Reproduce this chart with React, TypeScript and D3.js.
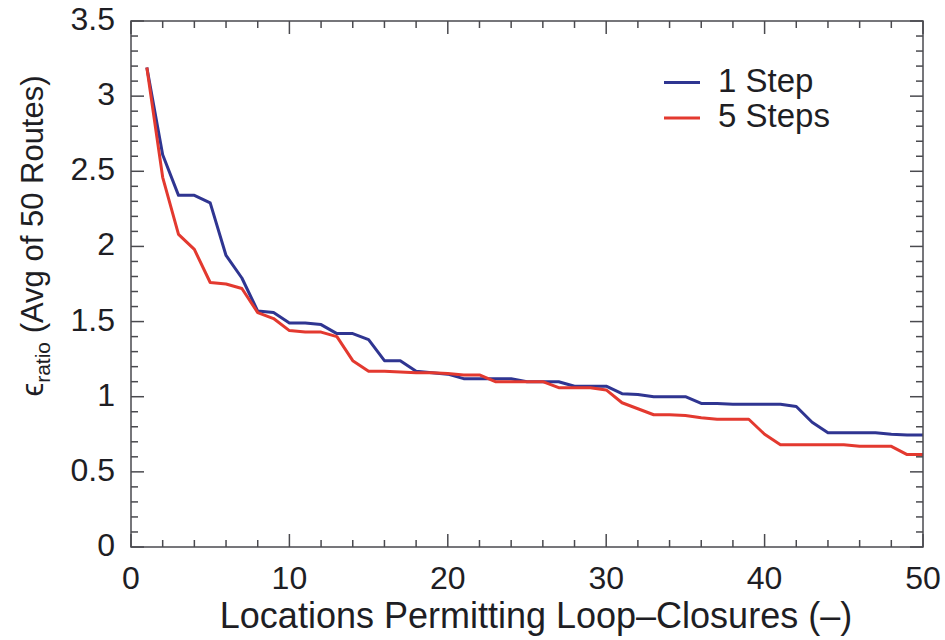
import React from "react";
import * as d3 from "d3";

const locations = [1,2,3,4,5,6,7,8,9,10,11,12,13,14,15,16,17,18,19,20,21,22,23,24,25,26,27,28,29,30,31,32,33,34,35,36,37,38,39,40,41,42,43,44,45,46,47,48,49,50];
const oneStep = [3.19,2.61,2.34,2.34,2.29,1.94,1.79,1.57,1.56,1.49,1.49,1.48,1.42,1.42,1.38,1.24,1.24,1.17,1.16,1.15,1.12,1.12,1.12,1.12,1.10,1.10,1.10,1.07,1.07,1.07,1.02,1.015,1.00,1.00,1.00,0.955,0.955,0.95,0.95,0.95,0.95,0.935,0.83,0.76,0.76,0.76,0.76,0.75,0.745,0.745];
const fiveSteps = [3.19,2.46,2.08,1.98,1.76,1.75,1.72,1.56,1.52,1.44,1.43,1.43,1.40,1.24,1.17,1.17,1.165,1.16,1.16,1.155,1.145,1.145,1.10,1.10,1.10,1.10,1.06,1.06,1.06,1.045,0.96,0.92,0.88,0.88,0.875,0.86,0.85,0.85,0.85,0.75,0.68,0.68,0.68,0.68,0.68,0.67,0.67,0.67,0.615,0.615];
const xTickLabels = [0,10,20,30,40,50];
const yTickLabels = [0,0.5,1,1.5,2,2.5,3,3.5];
const seriesNames = ["1 Step","5 Steps"];

const W = 945, H = 640;
const L = 131, R = 923, T = 21, B = 547;
const AX = "#4a4a4f";
const BLUE = "#2f3591";
const RED = "#e3392f";
const FONT = "'Liberation Sans', Arial, Helvetica, sans-serif";

export default function App() {
  const x = d3.scaleLinear().domain([0, 50]).range([L, R]);
  const y = d3.scaleLinear().domain([0, 3.5]).range([B, T]);
  const line = d3.line<number>().x((_, i) => x(locations[i])).y((d) => y(d));

  const xMinor = d3.range(0, 50.001, 2);
  const yMinor = d3.range(0, 3.5001, 0.1);
  const isMajorX = (v: number) => Math.abs(v / 10 - Math.round(v / 10)) < 1e-6;
  const isMajorY = (v: number) => Math.abs(v / 0.5 - Math.round(v / 0.5)) < 1e-6;

  return (
    <svg width={W} height={H} style={{ position: "absolute", left: 0, top: 0, background: "#fff" }} fontFamily={FONT}>
      <rect x={0} y={0} width={W} height={H} fill="#fff" />
      {/* ticks */}
      <g stroke={AX} strokeWidth={1.5}>
        {xMinor.map((v) => {
          const len = isMajorX(v) ? 13 : 7;
          return (
            <g key={"xt" + v}>
              <line x1={x(v)} x2={x(v)} y1={B} y2={B - len} />
              <line x1={x(v)} x2={x(v)} y1={T} y2={T + len} />
            </g>
          );
        })}
        {yMinor.map((v) => {
          const len = isMajorY(v) ? 13 : 7;
          return (
            <g key={"yt" + v.toFixed(2)}>
              <line x1={L} x2={L + len} y1={y(v)} y2={y(v)} />
              <line x1={R} x2={R - len} y1={y(v)} y2={y(v)} />
            </g>
          );
        })}
      </g>
      {/* series */}
      <path d={line(oneStep) || ""} fill="none" stroke={BLUE} strokeWidth={3} strokeLinejoin="round" />
      <path d={line(fiveSteps) || ""} fill="none" stroke={RED} strokeWidth={3} strokeLinejoin="round" />
      {/* frame */}
      <rect x={L} y={T} width={R - L} height={B - T} fill="none" stroke={AX} strokeWidth={1.5} />
      {/* tick labels */}
      <g fontSize={32} fill="#1e1e24">
        {xTickLabels.map((v) => (
          <text key={"xl" + v} x={x(v)} y={589} textAnchor="middle">{v}</text>
        ))}
        {yTickLabels.map((v) => (
          <text key={"yl" + v} x={L - 16} y={y(v) + 9} textAnchor="end">{v}</text>
        ))}
      </g>
      {/* axis titles */}
      <text x={536} y={628} textAnchor="middle" fontSize={36} fill="#1e1e24">
        Locations Permitting Loop–Closures (–)
      </text>
      <text transform={`translate(43,236) rotate(-90)`} textAnchor="middle" fontSize={31} fill="#1e1e24">
        ϵ<tspan fontSize={21} dy={7}>ratio</tspan><tspan dy={-7}> (Avg of 50 Routes)</tspan>
      </text>
      {/* legend */}
      <g>
        <line x1={664} x2={700} y1={82.5} y2={82.5} stroke={BLUE} strokeWidth={3} />
        <line x1={664} x2={700} y1={118} y2={118} stroke={RED} strokeWidth={3} />
        <text x={718} y={92} fontSize={33} fill="#1e1e24">{seriesNames[0]}</text>
        <text x={718} y={127} fontSize={33} fill="#1e1e24">{seriesNames[1]}</text>
      </g>
    </svg>
  );
}
